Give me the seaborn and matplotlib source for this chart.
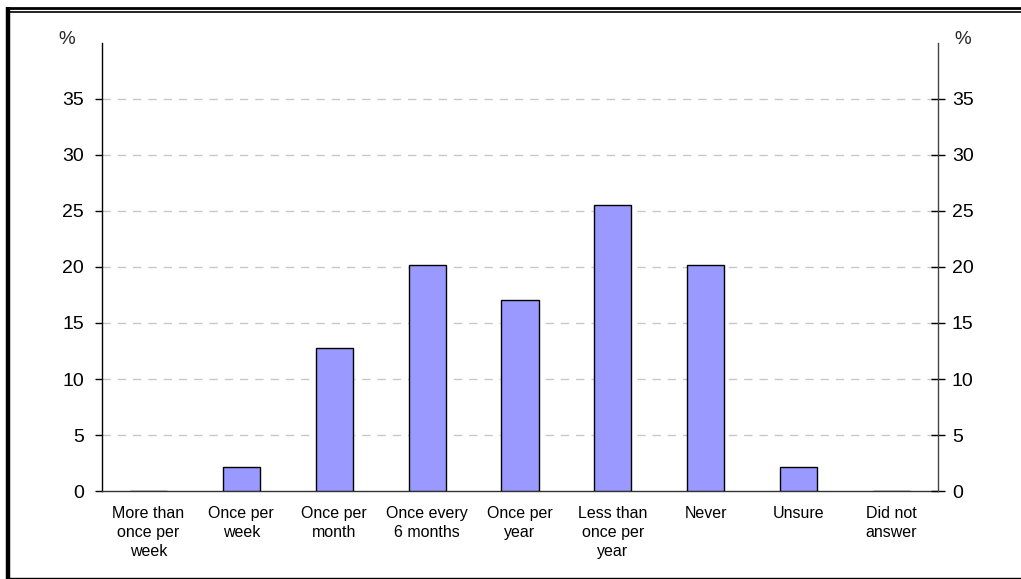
import matplotlib
matplotlib.use("Agg")
import matplotlib.pyplot as plt
import seaborn as sns
import pandas as pd
from matplotlib.lines import Line2D
from matplotlib.ticker import FixedLocator

categories = ["More than\nonce per\nweek", "Once per\nweek", "Once per\nmonth",
              "Once every\n6 months", "Once per\nyear", "Less than\nonce per\nyear",
              "Never", "Unsure", "Did not\nanswer"]
values = [0.0, 2.13, 12.77, 20.21, 17.02, 25.53, 20.21, 2.13, 0.0]
y_ticks = [0, 5, 10, 15, 20, 25, 30, 35]

sns.set_theme(style="white")
plt.rcParams['font.family'] = ['Liberation Sans', 'DejaVu Sans']

W, H = 1021, 579
fig = plt.figure(figsize=(W / 100, H / 100), dpi=100)
ax = fig.add_axes([102 / W, (H - 491) / H, (938 - 102) / W, (491 - 43) / H])

df = pd.DataFrame({"cat": categories, "val": values})
sns.barplot(data=df, x="cat", y="val", color="#9999FF", saturation=1, width=0.4,
            edgecolor="black", linewidth=1.0, ax=ax, zorder=3)

ax.set_xlim(-0.5, len(categories) - 0.5)
ax.set_ylim(0, 40)
ax.set_xlabel("")
ax.set_ylabel("")

# grid
for v in y_ticks[1:]:
    ax.axhline(v, color="#c8c8c8", linewidth=1.0, linestyle=(0, (6, 5)), zorder=1)

ax.yaxis.set_major_locator(FixedLocator(y_ticks))
ax.tick_params(axis="y", which="major", direction="out", length=5, width=1,
               color="black", labelsize=14, pad=8, labelcolor="black")
ax.set_xticks(range(len(categories)))
ax.set_xticklabels(categories, fontsize=11.5, linespacing=1.32)
ax.tick_params(axis="x", which="major", length=0, pad=11, labelcolor="black")
ax.xaxis.set_minor_locator(FixedLocator([i - 0.5 for i in range(len(categories) + 1)]))
ax.tick_params(axis="x", which="minor", direction="out", length=4, width=1, color="#333333")

ax.spines["top"].set_visible(False)
ax.spines["right"].set_visible(False)
ax.spines["left"].set_color("black")
ax.spines["bottom"].set_color("#333333")
for s in ["left", "bottom"]:
    ax.spines[s].set_linewidth(1.0)

ax2 = ax.twinx()
ax2.set_ylim(0, 40)
ax2.yaxis.set_major_locator(FixedLocator(y_ticks))
ax2.tick_params(axis="y", direction="inout", length=10, width=1, color="black",
                labelsize=14, pad=5, labelcolor="black")
for s in ["top", "left", "bottom"]:
    ax2.spines[s].set_visible(False)
ax2.spines["right"].set_color("#444444")
ax2.spines["right"].set_linewidth(1.0)
ax2.grid(False)

fig.text(67 / W, 1 - 40 / H, "%", fontsize=13.5, ha="center", va="center")
fig.text(963 / W, 1 - 40 / H, "%", fontsize=13.5, ha="center", va="center")

# outer frame
def px_line(x0, y0, x1, y1, lw):
    fig.add_artist(Line2D([x0 / W, x1 / W], [1 - y0 / H, 1 - y1 / H],
                          transform=fig.transFigure, color="black", linewidth=lw,
                          solid_capstyle="butt"))

px_line(6, 8, W, 8, 2.0)
px_line(6, 11.5, W, 11.5, 1.2)
px_line(8, 7, 8, 578.5, 3.2)
px_line(6, 578, W, 578, 1.0)

fig.savefig("out.png", dpi=100)
